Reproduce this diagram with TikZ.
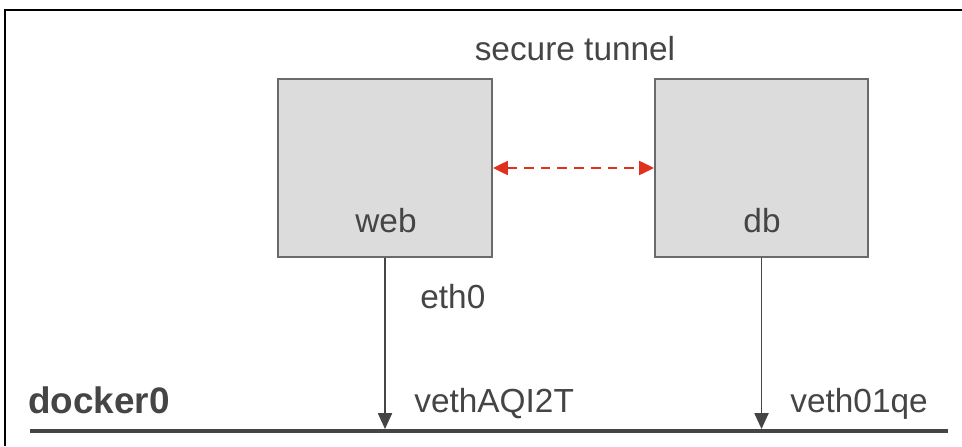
\documentclass[tikz,border=0pt]{standalone}
\usepackage{fontspec}
\setmainfont{Liberation Sans}
\usetikzlibrary{arrows.meta}
\definecolor{boxfill}{HTML}{DCDCDC}
\definecolor{boxline}{HTML}{6A6A6A}
\definecolor{txt}{HTML}{454545}
\definecolor{tunnel}{HTML}{E0301E}
\tikzset{
  px/.style={line width=#1*0.567pt},
  hostbox/.style={draw=boxline, fill=boxfill, px=2, minimum width=4.28cm, minimum height=3.56cm, inner sep=0pt},
  lbl/.style={text=txt, font=\fontsize{19}{22}\selectfont, inner sep=0pt},
  link/.style={draw=txt, px=1.6, -{Triangle[length=9pt,width=8pt]}},
}
\begin{document}
\begin{tikzpicture}[x=0.02cm,y=-0.02cm]
\useasboundingbox (0,0) rectangle (962,446);
\fill[white] (0,0) rectangle (962,446);
% frame
\draw[black, px=2.5] (5,446) -- (5,10) -- (962,10);
% boxes
\node[hostbox] (web) at (385,168) {};
\node[hostbox, minimum width=4.26cm] (db) at (761.5,168) {};
\node[lbl, anchor=base] (weblbl) at (386,232) {web};
\node[lbl, anchor=base] (dblbl) at (762,232) {db};
\node[lbl, anchor=base] (tunlbl) at (575,61) {secure tunnel};
% tunnel
\draw[tunnel, px=2, dash pattern=on 5.5pt off 4pt, {Triangle[length=8.5pt,width=8pt]}-{Triangle[length=8.5pt,width=8pt]}] (web.east) -- (db.west);
% bus
\coordinate (busL) at (30,431);
\coordinate (busR) at (948,431);
\draw[draw=txt, px=4] (busL) -- (busR);
\coordinate (webport) at (385,429);
\coordinate (dbport) at (761.5,429);
\draw[link] (web.south) -- (webport);
\draw[link] (db.south) -- (dbport);
% labels
\node[lbl, anchor=base west] (eth) at (420,308) {eth0};
\node[lbl, anchor=base west, font=\bfseries\fontsize{21}{25}\selectfont] (docker) at (28,413) {docker0};
\node[lbl, anchor=base west] (vweb) at (414,412) {vethAQI2T};
\node[lbl, anchor=base west] (vdb) at (790,412) {veth01qe};
\end{tikzpicture}
\end{document}
